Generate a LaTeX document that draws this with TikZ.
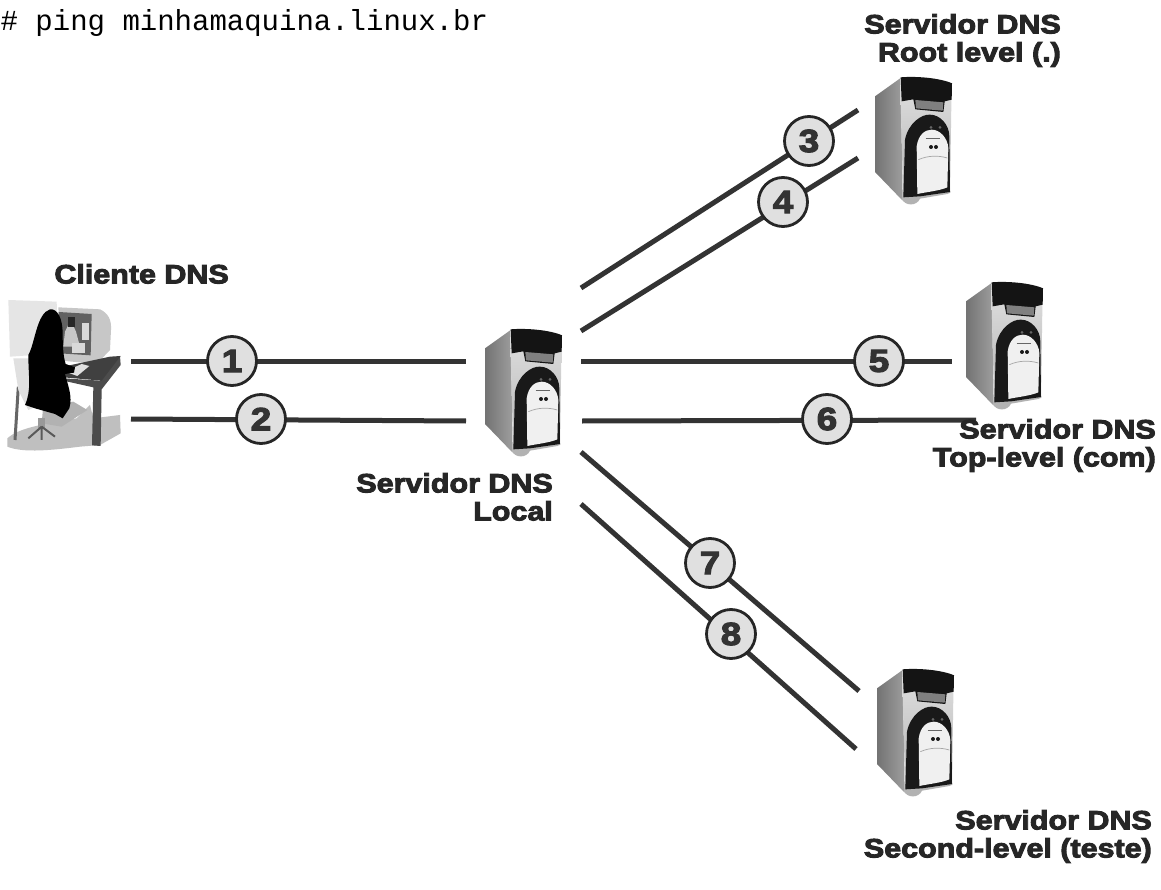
\documentclass[tikz,border=0pt]{standalone}
\usepackage{fontspec}
\setmainfont{Liberation Sans}
\setmonofont{Liberation Mono}
\newfontface\heavyface{Liberation Sans Bold}[FakeBold=3.6,FakeStretch=1.15]
\definecolor{linecol}{gray}{0.2}
\tikzset{
  link/.style={draw=linecol,line width=5pt},
  numdisc/.style={circle,draw=black!85,line width=2.8pt,fill=black!12,minimum size=49pt,inner sep=0pt,
     font=\fontsize{32}{32}\selectfont\heavyface,text=black!80},
  lab/.style={align=right,anchor=north east,inner sep=0pt,font=\fontsize{26.5}{28}\selectfont\heavyface,text=black!85},
  server/.pic={
    \begin{scope}[scale=1/3]
      \shade[left color=black!55,right color=black!38] (45,85) -- (122,30) -- (128,398) -- (45,312) -- cycle;
      \shade[top color=black!12,bottom color=black!30] (120,30) -- (275,45) -- (270,375) -- (130,398) -- cycle;
      \fill[black!30] (125,392) .. controls (135,415) and (170,415) .. (180,392) -- (262,378) -- (272,372) -- (130,380) -- cycle;
      \fill[black!92] (122,28) .. controls (170,24) and (240,30) .. (276,46) -- (275,95) -- (254,100) -- (250,132) -- (166,124) -- (160,94) -- (125,100) -- cycle;
      \fill[black!50] (166,96) -- (250,103) -- (248,128) -- (168,121) -- cycle;
      \fill[black!90] (130,388) -- (135,215) .. controls (145,165) and (185,138) .. (210,140) .. controls (240,140) and (268,170) .. (268,205) -- (270,372) -- (180,385) -- cycle;
      \fill[black!6] (172,378) -- (170,235) .. controls (175,200) and (195,185) .. (215,185) .. controls (240,185) and (263,210) .. (265,240) -- (262,358) .. controls (240,368) and (200,372) .. (172,378) -- cycle;
      \draw[black!35,line width=.7pt] (175,275) .. controls (205,262) and (235,262) .. (262,270);
      \draw[black!60,line width=.8pt] (197,210) -- (240,210);
      \fill[black!60] (213,178) circle (4.5) (240,178) circle (4.5);
      \fill[black!90] (213,237) circle (6) (228,237) circle (6);
    \end{scope}
  },
}
\begin{document}
\begin{tikzpicture}[x=1pt,y=-1pt]
\useasboundingbox (0,0) rectangle (1161,890);
\fill[white] (0,0) rectangle (1161,890);

% client workstation
\begin{scope}[scale=1/3,shift={(0,870)}]
  \fill[black!10] (25,30) -- (170,35) -- (175,190) -- (30,200) -- cycle;
  \fill[black!25] (22,445) .. controls (60,410) and (150,400) .. (230,385) -- (270,345) -- (280,385) -- (360,375) -- (362,430) -- (300,465) -- (240,470) .. controls (160,480) and (70,490) .. (22,470) -- cycle;
  \fill[black!22] (175,52) -- (300,58) .. controls (325,70) and (335,90) .. (333,120) -- (330,180) -- (290,222) -- (185,212) -- cycle;
  \fill[black!62] (176,66) -- (275,72) -- (272,196) -- (178,190) -- cycle;
  \fill[black!22] (195,125) -- (212,90) -- (228,125) -- (240,170) -- (190,170) -- cycle;
  \fill[black!85] (205,80) rectangle (225,112);
  \fill[black!15] (245,100) rectangle (268,150);
  \fill[black!15] (215,160) rectangle (255,190);
  \fill[black!70] (190,265) -- (300,272) -- (360,198) -- (362,225) -- (305,298) -- (302,468) -- (276,466) -- (280,292) -- (190,272) -- cycle;
  \fill[black!75] (190,230) -- (330,200) -- (362,198) -- (305,272) -- (190,262) -- cycle;
  \fill[black!12] (195,245) -- (245,222) -- (268,228) -- (232,258) -- cycle;
  \fill[black!30] (130,345) -- (220,335) -- (262,360) -- (185,410) -- (125,400) -- cycle;
  \fill[black!40] (115,385) rectangle (135,415);
  \draw[black!65,line width=2pt] (125,410) -- (85,445) (125,410) -- (125,450) (125,410) -- (165,440);
  \draw[black!60,line width=3pt] (55,290) -- (45,450);
  \fill[black!12] (40,205) -- (85,205) -- (105,205) .. controls (105,260) and (120,300) .. (125,342) -- (85,360) -- (55,300) -- cycle;
  \fill[black] (150,58) .. controls (172,55) and (188,85) .. (188,130) .. controls (188,170) and (190,200) .. (197,222) -- (225,232) -- (222,248) -- (195,252) .. controls (205,290) and (218,320) .. (208,355) -- (188,385) -- (165,372) -- (105,355) -- (75,345) .. controls (95,300) and (85,260) .. (85,195) .. controls (105,160) and (110,70) .. (150,58) -- cycle;
\end{scope}

% servers
\pic (rootsrv) at (860,68) {server};
\pic (topsrv) at (951,273) {server};
\pic (localsrv) at (470,320) {server};
\pic (secondsrv) at (862,660) {server};

% connector end points
\coordinate (c1a) at (131,361); \coordinate (c1b) at (466,361);
\coordinate (c2a) at (131,419); \coordinate (c2b) at (466,421);
\coordinate (c3a) at (581,288); \coordinate (c3b) at (858,110);
\coordinate (c4a) at (581,331); \coordinate (c4b) at (858,158);
\coordinate (c5a) at (581,361); \coordinate (c5b) at (952,361);
\coordinate (c6a) at (582,421); \coordinate (c6b) at (976,420);
\coordinate (c7a) at (581,452); \coordinate (c7b) at (859,691);
\coordinate (c8a) at (581,504); \coordinate (c8b) at (856,749);
\foreach \n in {1,...,8} {\path[link] (c\n a) -- (c\n b);}

% numbered discs
\node[numdisc] (n1) at (232,361) {1};
\node[numdisc] (n2) at (261,419) {2};
\node[numdisc] (n3) at (809,141) {3};
\node[numdisc] (n4) at (783,202) {4};
\node[numdisc] (n5) at (879,361) {5};
\node[numdisc] (n6) at (827,419) {6};
\node[numdisc] (n7) at (710,563) {7};
\node[numdisc] (n8) at (731,634) {8};

% labels
\node[anchor=north west,inner sep=0pt,font=\fontsize{29}{29}\selectfont\ttfamily] (cmd) at (0.5,9) {\# ping minhamaquina.linux.br};
\node[lab] (lroot) at (1061,14) {Servidor DNS\\Root level (.)};
\node[lab] (lclient) at (229,264) {Cliente DNS};
\node[lab] (llocal) at (553,473) {Servidor DNS\\Local};
\node[lab] (ltop) at (1156,419) {Servidor DNS\\Top-level (com)};
\node[lab] (lsecond) at (1152,810) {Servidor DNS\\Second-level (teste)};
\end{tikzpicture}
\end{document}
